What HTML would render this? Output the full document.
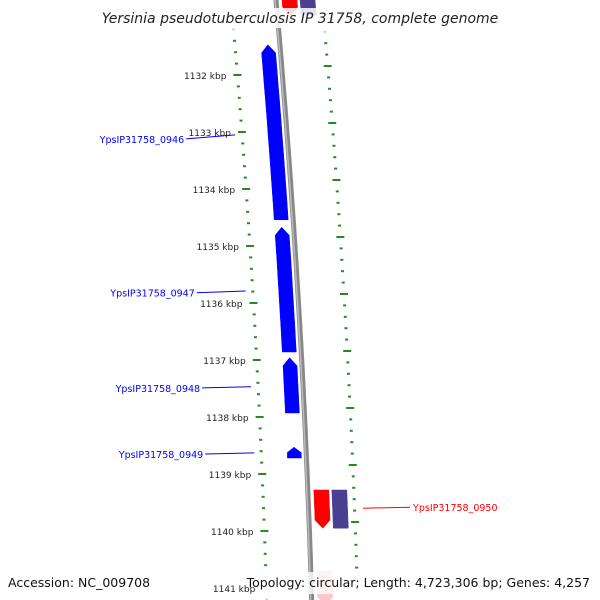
<!DOCTYPE html>
<html><head><meta charset="utf-8"><style>
body{margin:0;background:#fff}
svg{display:block;font-family:"DejaVu Sans","Liberation Sans",sans-serif}
</style></head><body>
<svg id="map" width="600" height="600" viewBox="0 0 600 600">
<g id="ticks"></g>
<g id="backbone"></g>
<g id="genes"></g>
<g id="labels"></g>
<rect x="95" y="8" width="410" height="20" fill="#fff" opacity="0.85"/>
<text x="300" y="23" text-anchor="middle" font-size="14" font-style="italic" fill="#222">Yersinia pseudotuberculosis IP 31758, complete genome</text>
<rect x="255" y="572" width="340" height="22" fill="#fff" opacity="0.8"/>
<text x="8" y="587" font-size="12.5" fill="#111">Accession: NC_009708</text>
<text x="590" y="587" text-anchor="end" font-size="12.5" fill="#111">Topology: circular; Length: 4,723,306 bp; Genes: 4,257</text>
</svg>
<script>
const majorKbp=[1132,1133,1134,1135,1136,1137,1138,1139,1140,1141];
const geneNames=["YpsIP31758_0946","YpsIP31758_0947","YpsIP31758_0948","YpsIP31758_0949","YpsIP31758_0950","YpsIP31758_0950-cds","top-red","top-purple","bottom-pink"];
const geneStart=[1131.47,1134.67,1136.96,1138.53,1139.28,1139.28,1130.6,1130.6,1140.72];
const geneEnd=[1134.54,1136.86,1137.93,1138.72,1139.95,1139.95,1130.95,1130.95,1141.3];
const geneStrand=[-1,-1,-1,-1,1,0,1,0,1];
const geneTrack=[-1,-1,-1,-1,1,2,1,2,1];
const geneColor=["#0000ff","#0000ff","#0000ff","#0000ff","#ff0000","#4a3f90","#ff0000","#4a3f90","#ffc8c8"];
const labelNames=["YpsIP31758_0946","YpsIP31758_0947","YpsIP31758_0948","YpsIP31758_0949","YpsIP31758_0950"];
const labelKbp=[1133.12,1135.82,1137.49,1138.65,1139.6];
const labelGeneKbp=[1133.05,1135.79,1137.47,1138.63,1139.6];

const NS="http://www.w3.org/2000/svg";
function yOf(k){return 75+(k-1132)*57;}
function dx(y){return 0.0892*y-0.0000495*y*y;}
function bx(y){return 276+dx(y);}
function mk(tag,attrs,parent){const e=document.createElementNS(NS,tag);for(const a in attrs)e.setAttribute(a,attrs[a]);parent.appendChild(e);return e;}

const tg=document.getElementById('ticks');
for(let k=1131;k<=1141.41;k=Math.round((k+0.2)*10)/10){
  const y=yOf(k); if(y<-5||y>605) continue;
  const maj=Math.abs(k-Math.round(k))<0.01;
  const col=(y<40||y>575)?"#bfe0bf":"#228b22";
  const lx=bx(y)-45;
  const w=maj?8:3;
  const t=mk('rect',{x:lx-w/2,y:y-1,width:w,height:2,fill:col},tg);
  
  
  const yr=y-9;
  const rx=bx(yr)+46;
  const t2=mk('rect',{x:rx-w/2,y:yr-1,width:w,height:2,fill:(yr<40||yr>575)?"#bfe0bf":"#228b22"},tg);
  
  
}
majorKbp.forEach(k=>{
  const y=yOf(k);
  const tx=mk('text',{x:bx(y)-56,y:y+4,'font-size':9,'text-anchor':'end',fill:"#222"},tg);
  tx.textContent=k+" kbp";
  
  
});

const bg=document.getElementById('backbone');
let d="";for(let y=-5;y<=605;y+=10){d+=(y<0?"M":"L")+bx(y).toFixed(1)+","+y;}
const bl=mk('path',{d:d,stroke:"#888",'stroke-width':5,fill:"none"},bg);


const bl2=mk('path',{d:d,stroke:"#bbb",'stroke-width':1.5,fill:"none",transform:"translate(-1,0)"},bg);



const gg=document.getElementById('genes');
geneNames.forEach((n,i)=>{
  const y1=yOf(geneStart[i]),y2=yOf(geneEnd[i]);
  let o1,o2;
  if(geneTrack[i]<0){o1=-19;o2=-5;}else if(geneTrack[i]==1){o1=6;o2=21;}else{o1=24;o2=39;}
  const head=Math.min(8,(y2-y1)*0.5);
  const pts=[];
  const steps=10;
  if(geneStrand[i]<0){
    const ya=y1+head;
    pts.push([bx(y1)+(o1+o2)/2,y1]);
    for(let s=0;s<=steps;s++){const y=ya+(y2-ya)*s/steps;pts.push([bx(y)+o2,y]);}
    for(let s=steps;s>=0;s--){const y=ya+(y2-ya)*s/steps;pts.push([bx(y)+o1,y]);}
  } else if(geneStrand[i]>0){
    const yb=y2-head;
    for(let s=0;s<=steps;s++){const y=y1+(yb-y1)*s/steps;pts.push([bx(y)+o2,y]);}
    pts.push([bx(y2)+(o1+o2)/2,y2]);
    for(let s=steps;s>=0;s--){const y=y1+(yb-y1)*s/steps;pts.push([bx(y)+o1,y]);}
  } else {
    for(let s=0;s<=steps;s++){const y=y1+(y2-y1)*s/steps;pts.push([bx(y)+o2,y]);}
    for(let s=steps;s>=0;s--){const y=y1+(y2-y1)*s/steps;pts.push([bx(y)+o1,y]);}
  }
  const p=mk('polygon',{points:pts.map(q=>q[0].toFixed(1)+","+q[1].toFixed(1)).join(" "),fill:geneColor[i],stroke:geneColor[i],'stroke-width':0.5},gg);
  
  
});

const lg=document.getElementById('labels');
labelNames.forEach((n,i)=>{
  const yl=yOf(labelKbp[i]), yg=yOf(labelGeneKbp[i]);
  const right=i==4;
  const col=right?"#ff0000":"#0000ff";
  if(!right){
    const gx=bx(yg)-52, tx=gx-49;
    const l=mk('line',{x1:tx,y1:yl,x2:gx,y2:yg,stroke:col,'stroke-width':1},lg);
    
    
    const t=mk('text',{x:tx-2,y:yl+4,'font-size':9.5,'text-anchor':'end',fill:col},lg);
    t.textContent=n;
    
    
  } else {
    const gx=bx(yg)+54.5;
    const l=mk('line',{x1:gx,y1:yg,x2:gx+47,y2:yg-1,stroke:col,'stroke-width':1},lg);
    
    
    const t=mk('text',{x:gx+50,y:yg+3,'font-size':9.5,fill:col},lg);
    t.textContent=n;
    
    
  }
});
</script>
</body></html>
